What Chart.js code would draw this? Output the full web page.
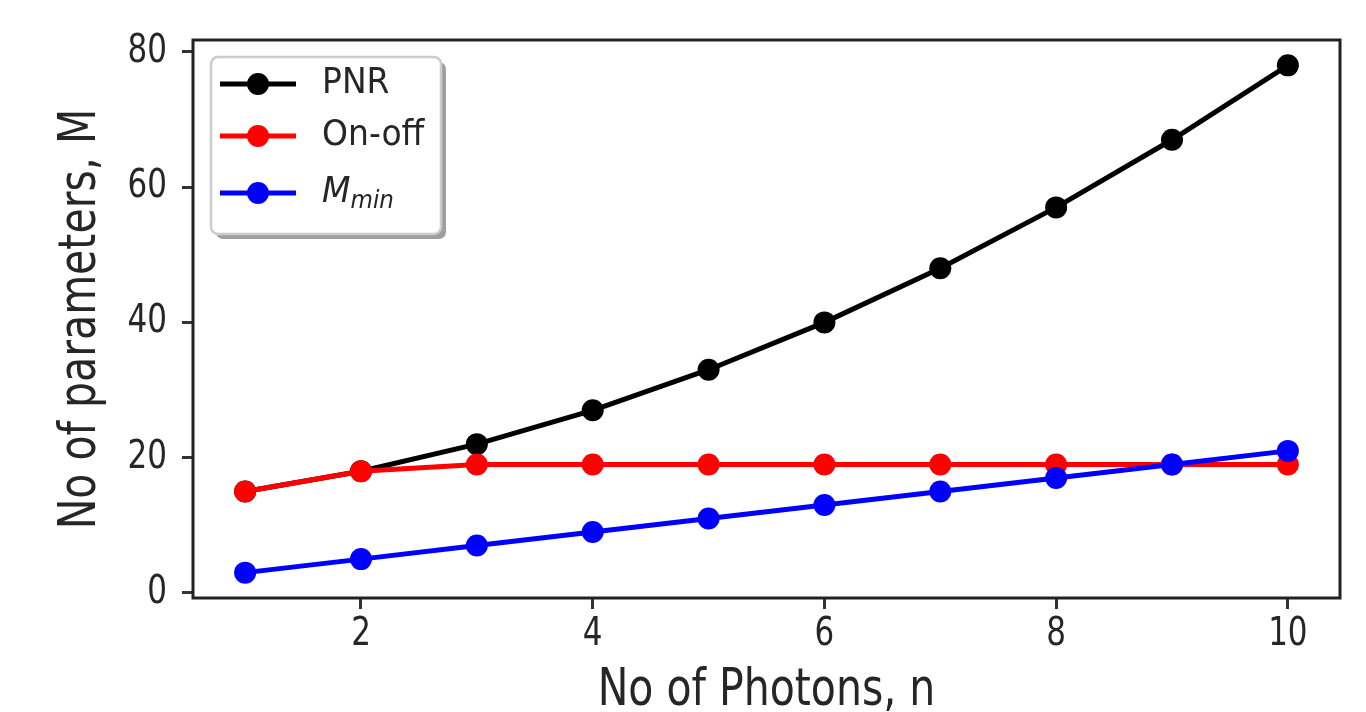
<!DOCTYPE html>
<html>
<head>
<meta charset="utf-8">
<script src="https://cdn.jsdelivr.net/npm/chart.js@4.4.1/dist/chart.umd.min.js"></script>
<style>
  html, body { margin: 0; padding: 0; background: #fff; }
  canvas { display: block; }
</style>
</head>
<body>
<canvas id="photonChart" width="1366" height="712"></canvas>
<script>
// values
const photons = [1, 2, 3, 4, 5, 6, 7, 8, 9, 10];
const pnrParams = [15, 18, 22, 27, 33, 40, 48, 57, 67, 78];
const onOffParams = [15, 18, 19, 19, 19, 19, 19, 19, 19, 19];
const minParams = [3, 5, 7, 9, 11, 13, 15, 17, 19, 21];

const xTicks = [2, 4, 6, 8, 10];
const yTicks = [0, 20, 40, 60, 80];

const FONT = 'DejaVu Sans';
const TEXT_COLOR = '#262626';
const TEXT_STRETCH = 1.25; // the figure's lettering is taller than wide
const nativeFill = CanvasRenderingContext2D.prototype.fillText;

function points(values) {
  return photons.map((n, i) => ({ x: n, y: values[i] }));
}

// stretch every label vertically about its anchor
const tallText = {
  id: 'tallText',
  beforeInit(chart) {
    chart.ctx.fillText = function (text, x, y, maxWidth) {
      this.save();
      this.translate(x, y);
      this.scale(1, TEXT_STRETCH);
      if (maxWidth === undefined) nativeFill.call(this, text, 0, 0);
      else nativeFill.call(this, text, 0, 0, maxWidth);
      this.restore();
    };
  }
};

// box round the plot, like matplotlib spines
const frame = {
  id: 'frame',
  afterDatasetsDraw(chart) {
    const { ctx, chartArea: a } = chart;
    ctx.save();
    ctx.strokeStyle = '#222';
    ctx.lineWidth = 3;
    ctx.strokeRect(a.left, a.top, a.right - a.left, a.bottom - a.top);
    ctx.restore();
  }
};

// legend drawn inside the axes: line + marker, then the label
const insideLegend = {
  id: 'insideLegend',
  afterDraw(chart) {
    const { ctx, chartArea: a } = chart;
    const box = { x: a.left + 18, y: a.top + 17, w: 230, h: 177 };
    const rows = [a.top + 44, a.top + 96, a.top + 153];

    ctx.save();
    // shadow
    ctx.fillStyle = 'rgba(0,0,0,0.38)';
    ctx.beginPath();
    ctx.roundRect(box.x + 5, box.y + 5, box.w, box.h, 7);
    ctx.fill();
    // box
    ctx.fillStyle = '#fff';
    ctx.strokeStyle = '#cccccc';
    ctx.lineWidth = 2.5;
    ctx.beginPath();
    ctx.roundRect(box.x, box.y, box.w, box.h, 7);
    ctx.fill();
    ctx.stroke();

    chart.data.datasets.forEach((ds, i) => {
      const y = rows[i];
      const x0 = box.x + 9, x1 = box.x + 85;
      ctx.strokeStyle = ds.borderColor;
      ctx.lineWidth = ds.borderWidth;
      ctx.beginPath();
      ctx.moveTo(x0, y);
      ctx.lineTo(x1, y);
      ctx.stroke();
      ctx.fillStyle = ds.pointBackgroundColor;
      ctx.beginPath();
      ctx.arc((x0 + x1) / 2, y, ds.pointRadius, 0, Math.PI * 2);
      ctx.fill();

      const tx = box.x + 111;
      const [main, sub] = ds.label.split('_');
      ctx.fillStyle = TEXT_COLOR;
      ctx.textBaseline = 'middle';
      ctx.textAlign = 'left';
      const italic = sub !== undefined ? 'italic ' : '';
      ctx.font = italic + '33px "' + FONT + '"';
      ctx.save();
      ctx.translate(tx, y);
      ctx.scale(1, 1.1);
      nativeFill.call(ctx, main, 0, 0);
      if (sub !== undefined) {
        const w = ctx.measureText(main).width;
        ctx.font = 'italic 23px "' + FONT + '"';
        nativeFill.call(ctx, sub, w, 8);
      }
      ctx.restore();
    });
    ctx.restore();
  }
};

function series(label, values, color, order) {
  return {
    label: label,
    data: points(values),
    borderColor: color,
    backgroundColor: color,
    pointBackgroundColor: color,
    pointBorderWidth: 0,
    pointRadius: 11,
    borderWidth: 5,
    tension: 0,
    order: order
  };
}

const tickGrid = {
  display: true,
  drawOnChartArea: false,
  drawTicks: true,
  tickLength: 11,
  tickWidth: 3,
  tickColor: '#333'
};

const ctx = document.getElementById('photonChart').getContext('2d');
const photonChart = new Chart(ctx, {
  type: 'line',
  data: {
    datasets: [
      series('PNR', pnrParams, '#000000', 3),
      series('On-off', onOffParams, '#ff0000', 2),
      series('M_min', minParams, '#0000ff', 1)
    ]
  },
  options: {
    responsive: false,
    animation: false,
    events: [],
    layout: { padding: { top: 40, right: 26, left: 0, bottom: 0 } },
    plugins: {
      legend: { display: false },
      tooltip: { enabled: false }
    },
    scales: {
      x: {
        type: 'linear',
        min: 0.55,
        max: 10.45,
        afterBuildTicks: s => { s.ticks = xTicks.map(v => ({ value: v })); },
        afterFit: s => { s.height = 114; },
        border: { display: false },
        grid: tickGrid,
        ticks: {
          font: { family: FONT, size: 31, lineHeight: 1.2 },
          color: TEXT_COLOR,
          padding: 7,
          maxRotation: 0,
          autoSkip: false
        },
        title: {
          display: true,
          text: 'No of Photons, n',
          color: TEXT_COLOR,
          font: { family: FONT, size: 41, lineHeight: 1 },
          padding: { top: 0, bottom: 0 }
        }
      },
      y: {
        type: 'linear',
        min: -0.75,
        max: 81.75,
        afterBuildTicks: s => { s.ticks = yTicks.map(v => ({ value: v })); },
        afterFit: s => { s.width = 193; },
        border: { display: false },
        grid: tickGrid,
        ticks: {
          font: { family: FONT, size: 31, lineHeight: 1.2 },
          color: TEXT_COLOR,
          padding: 15,
          autoSkip: false
        },
        title: {
          display: true,
          text: 'No of parameters, M',
          color: TEXT_COLOR,
          font: { family: FONT, size: 41, lineHeight: 1 },
          padding: { top: 61, bottom: 0 }
        }
      }
    }
  },
  plugins: [tallText, frame, insideLegend]
});
</script>
</body>
</html>
